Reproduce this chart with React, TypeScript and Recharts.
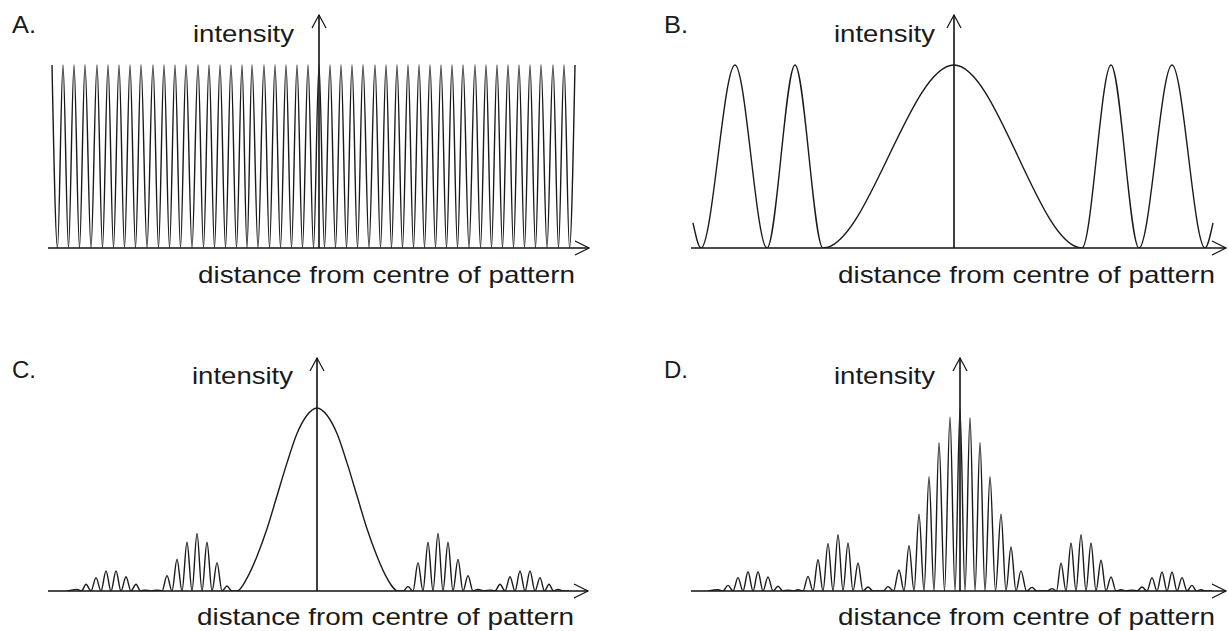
import React from "react";
import { LineChart, Line, XAxis, YAxis, ReferenceLine } from "recharts";

// x = distance from centre of pattern (arbitrary units), y = intensity (central max = 1)
const Y_TOP = 1.273;

// A. equal fringes across the whole screen (turning points: peak, trough, peak ...)
const A_X = [
  -267, -261.5, -256, -250.5, -245, -239.5, -234, -228, -222, -216.5,
  -211, -205.5, -200, -194.5, -189, -183.5, -178, -172, -166, -160.5,
  -155, -149.5, -144, -138.5, -133, -127, -121, -115.5, -110, -104.5,
  -99, -93.5, -88, -82.5, -77, -72, -67, -61, -55, -49.5,
  -44, -38.5, -33, -27.5, -22, -16.5, -11, -5.5, 0, 5.5,
  11, 16.5, 22, 27.5, 33, 38.5, 44, 50, 56, 61.5,
  67, 72.5, 78, 83.5, 89, 94.5, 100, 105.5, 111, 116.5,
  122, 127.5, 133, 138.5, 144, 150, 156, 161.5, 167, 172.5,
  178, 183.5, 189, 194.5, 200, 205.5, 211, 216.5, 222, 228,
  234, 239.5, 245, 250.5, 256,
];
const A_Y = [
  1, 0, 1, 0, 1, 0, 1, 0, 1, 0,
  1, 0, 1, 0, 1, 0, 1, 0, 1, 0,
  1, 0, 1, 0, 1, 0, 1, 0, 1, 0,
  1, 0, 1, 0, 1, 0, 1, 0, 1, 0,
  1, 0, 1, 0, 1, 0, 1, 0, 1, 0,
  1, 0, 1, 0, 1, 0, 1, 0, 1, 0,
  1, 0, 1, 0, 1, 0, 1, 0, 1, 0,
  1, 0, 1, 0, 1, 0, 1, 0, 1, 0,
  1, 0, 1, 0, 1, 0, 1, 0, 1, 0,
  1, 0, 1, 0, 1,
];

// B. wide central maximum, narrow outer maxima
const B_X = [-261, -253, -219, -187, -159, -131, 0, 128, 157, 185, 218, 251, 259];
const B_Y = [0.137, 0, 1, 0, 1, 0, 1, 0, 1, 0, 1, 0, 0.137];

// C. smooth central maximum, fringed side groups
const C_X = [
  -250,
  -240, -235.5, -231, -226, -221, -216, -211, -206, -201, -196, -191, -186, -181, -176.5, -172, -166,
  -160, -155, -150, -145, -140, -135, -130, -125, -120, -115, -110, -105, -100, -95, -90, -85,
  -80, -70, -60, -50, -40, -30, -20, -10, 0, 10, 20, 30, 40, 50, 60, 70, 81,
  86, 91, 96, 101, 106, 111, 116, 121, 126, 131, 136, 141, 146, 151, 156, 161,
  167, 173, 178, 183, 188, 193, 198, 203, 208, 213, 218, 223, 227.5, 232, 236.5, 241, 246, 252,
];
const C_Y = [
  0,
  0.009, 0, 0.037, 0, 0.073, 0, 0.109, 0, 0.109, 0, 0.078, 0, 0.037, 0, 0.005, 0,
  0.005, 0, 0.084, 0, 0.173, 0, 0.266, 0, 0.315, 0, 0.266, 0, 0.155, 0, 0.027, 0,
  0, 0.07, 0.19, 0.34, 0.52, 0.7, 0.86, 0.96, 1, 0.96, 0.86, 0.7, 0.52, 0.34, 0.19, 0.07, 0,
  0, 0.024, 0, 0.155, 0, 0.266, 0, 0.315, 0, 0.266, 0, 0.173, 0, 0.084, 0, 0.009,
  0, 0.005, 0, 0.037, 0, 0.078, 0, 0.109, 0, 0.109, 0, 0.073, 0, 0.037, 0, 0.009, 0, 0,
];

// D. fringed central maximum and fringed side groups
const D_X = [
  -252,
  -242, -237, -232, -227, -222, -217, -212, -207, -202, -197, -192, -187, -182, -177, -172, -167,
  -162, -157, -152, -147, -142, -137, -132, -127, -122, -117, -112, -107, -102, -97, -92, -87,
  -77, -72, -66.5, -61, -56, -51, -46, -41, -36, -31, -26, -21, -15.5, -10, -5, 0,
  5, 10, 15, 20, 25, 30, 35.5, 41, 46, 51, 56, 61, 66.5, 72, 77,
  87, 92, 96.5, 101, 106, 111, 116, 121, 126, 131, 136, 141, 146, 151, 156, 161,
  166.5, 172, 177, 182, 187, 192, 197, 202, 207, 212, 217, 222, 227, 232, 236.5, 241, 246, 252,
];
const D_Y = [
  0,
  0.007, 0, 0.031, 0, 0.073, 0, 0.105, 0, 0.105, 0, 0.077, 0, 0.026, 0, 0.005, 0,
  0.007, 0, 0.08, 0, 0.171, 0, 0.26, 0, 0.308, 0, 0.262, 0, 0.153, 0, 0.022, 0,
  0, 0.024, 0, 0.115, 0, 0.248, 0, 0.42, 0, 0.625, 0, 0.81, 0, 0.95, 0, 0.99,
  0, 0.947, 0, 0.81, 0, 0.625, 0, 0.42, 0, 0.24, 0, 0.11, 0, 0.02, 0,
  0, 0.013, 0, 0.153, 0, 0.262, 0, 0.308, 0, 0.262, 0, 0.168, 0, 0.077, 0, 0.007,
  0, 0.005, 0, 0.022, 0, 0.073, 0, 0.104, 0, 0.104, 0, 0.073, 0, 0.031, 0, 0.007, 0, 0,
];

const toRows = (xs: number[], ys: number[]) => xs.map((x, i) => ({ x, y: ys[i] }));

const INK = "#111";

// horizontal axis with open arrow head on the right
const XArrow = (p: any) => {
  const a = Math.min(p.x1, p.x2);
  const b = Math.max(p.x1, p.x2);
  const y = p.y1;
  return (
    <g>
      <line x1={a} y1={y} x2={b} y2={y} stroke={INK} strokeWidth={1.7} />
      <path d={`M${b - 14},${y - 7}L${b},${y}L${b - 14},${y + 7}`} fill="none" stroke={INK} strokeWidth={1.2} />
    </g>
  );
};

// vertical axis with open arrow head at the top
const YArrow = (p: any) => {
  const top = Math.min(p.y1, p.y2);
  const bot = Math.max(p.y1, p.y2);
  const x = p.x1;
  return (
    <g>
      <line x1={x} y1={bot} x2={x} y2={top} stroke={INK} strokeWidth={1.6} />
      <path d={`M${x - 7},${top + 13}L${x},${top}L${x + 7},${top + 13}`} fill="none" stroke={INK} strokeWidth={1.2} />
    </g>
  );
};

interface PanelProps {
  xs: number[];
  ys: number[];
  domain: [number, number];
  left: number;
  top: number;
  width: number;
  rightMargin: number;
}

function Panel({ xs, ys, domain, left, top, width, rightMargin }: PanelProps) {
  return (
    <div style={{ position: "absolute", left, top }}>
      <LineChart
        width={width}
        height={253}
        data={toRows(xs, ys)}
        margin={{ top: 10, right: rightMargin, bottom: 10, left: 10 }}
      >
        <XAxis type="number" dataKey="x" domain={domain} hide allowDataOverflow />
        <YAxis type="number" domain={[0, Y_TOP]} hide allowDataOverflow />
        <ReferenceLine y={0} shape={XArrow} />
        <ReferenceLine x={0} shape={YArrow} />
        <Line
          type="monotone"
          dataKey="y"
          stroke="#1a1a1a"
          strokeWidth={1.4}
          dot={false}
          isAnimationActive={false}
        />
      </LineChart>
    </div>
  );
}

const FONT = "'Liberation Sans', Arial, Helvetica, sans-serif";

function Labels() {
  const t = (x: number, y: number, s: string, w: number) => (
    <text x={x} y={y} fontSize={24} fontFamily={FONT} fill="#1a1a1a" textLength={w} lengthAdjust="spacingAndGlyphs">
      {s}
    </text>
  );
  return (
    <svg width={1228} height={631} style={{ position: "absolute", left: 0, top: 0, pointerEvents: "none" }}>
      {t(12, 33, "A.", 24)}
      {t(193, 42, "intensity", 101)}
      {t(198, 283, "distance from centre of pattern", 377)}
      {t(664, 33, "B.", 24)}
      {t(834, 42, "intensity", 101)}
      {t(838, 283, "distance from centre of pattern", 377)}
      {t(12, 378, "C.", 24)}
      {t(192, 384, "intensity", 101)}
      {t(197, 625, "distance from centre of pattern", 377)}
      {t(664, 378, "D.", 24)}
      {t(834, 384, "intensity", 101)}
      {t(838, 625, "distance from centre of pattern", 377)}
    </svg>
  );
}

export default function App() {
  return (
    <div
      style={{
        position: "absolute",
        left: 0,
        top: 0,
        width: 1228,
        height: 631,
        background: "#fff",
        overflow: "hidden",
      }}
    >
      <Panel xs={A_X} ys={A_Y} domain={[-271, 270]} left={38} top={5} width={561} rightMargin={10} />
      <Panel xs={B_X} ys={B_Y} domain={[-263, 272]} left={681} top={5} width={547} rightMargin={2} />
      <Panel xs={C_X} ys={C_Y} domain={[-269, 271]} left={38} top={348} width={560} rightMargin={10} />
      <Panel xs={D_X} ys={D_Y} domain={[-269, 266]} left={681} top={348} width={547} rightMargin={2} />
      <Labels />
    </div>
  );
}
